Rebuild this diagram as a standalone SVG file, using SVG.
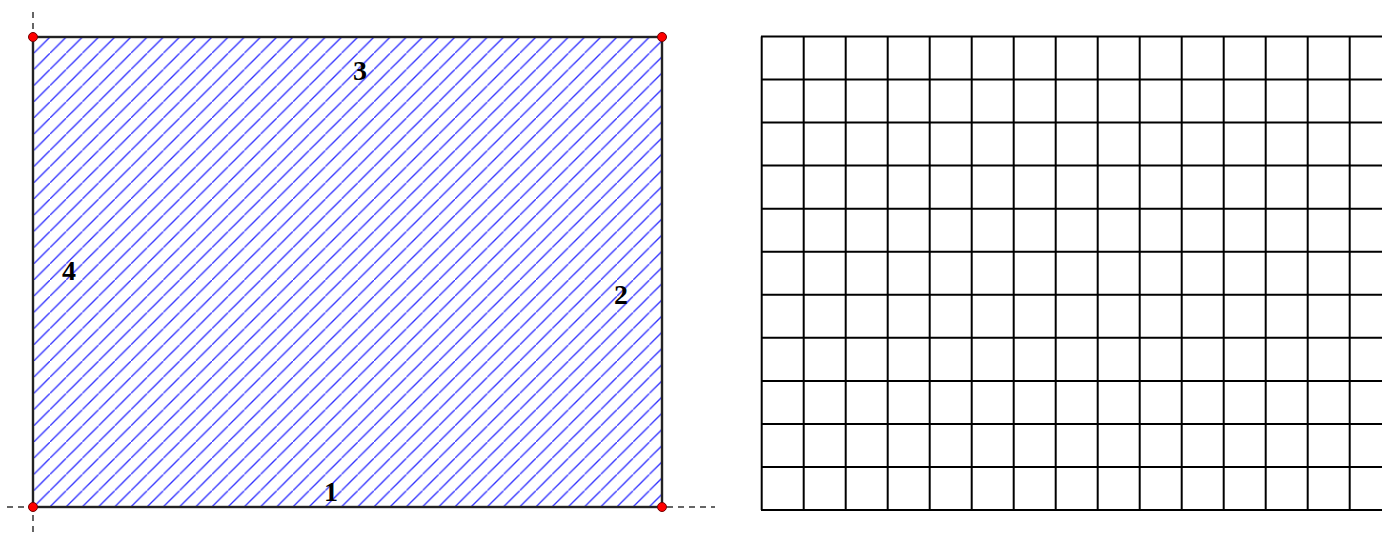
<svg xmlns="http://www.w3.org/2000/svg" width="1382" height="534" viewBox="0 0 1382 534">
<style>
.axis{stroke:#333;stroke-width:1.5;stroke-dasharray:6 5;fill:none}
.border{fill:none;stroke:#222;stroke-width:2.4}
.pt{fill:#ff0000;stroke:#700000;stroke-width:1}
.lbl{font-family:"Liberation Serif","Times New Roman",serif;font-weight:bold;font-size:28px;fill:#000;text-anchor:middle}
.grid{stroke:#000;stroke-width:2;fill:none}
</style>
<defs>
<pattern id="hatch" patternUnits="userSpaceOnUse" x="33.8" y="37" width="16.2" height="16.2">
<line x1="-1" y1="17.2" x2="17.2" y2="-1" stroke="#3030ff" stroke-width="1.3"/>
</pattern>
</defs>
<g id="axes">
<line class="axis" x1="33" y1="12" x2="33" y2="37"/>
<line class="axis" x1="33" y1="515" x2="33" y2="534"/>
<line class="axis" x1="7" y1="507" x2="33" y2="507"/>
<line class="axis" x1="667" y1="507" x2="715" y2="507"/>
</g>
<g id="region">
<rect x="33" y="37" width="629" height="470" fill="url(#hatch)"/>
<rect class="border" x="33" y="37" width="629" height="470"/>
</g>
<g id="points">
<circle class="pt" cx="33" cy="37" r="4.5"/>
<circle class="pt" cx="662" cy="37" r="4.5"/>
<circle class="pt" cx="33" cy="507" r="4.5"/>
<circle class="pt" cx="662" cy="507" r="4.5"/>
</g>
<g id="labels">
<text class="lbl" x="360" y="80">3</text>
<text class="lbl" x="69" y="280">4</text>
<text class="lbl" x="621" y="304">2</text>
<text class="lbl" x="331" y="501">1</text>
</g>
<g id="grid">
<path class="grid" d="M761.7 36.5V510 M803.7 36.5V510 M845.7 36.5V510 M887.7 36.5V510 M929.7 36.5V510 M971.7 36.5V510 M1013.7 36.5V510 M1055.7 36.5V510 M1097.7 36.5V510 M1139.7 36.5V510 M1181.7 36.5V510 M1223.7 36.5V510 M1265.7 36.5V510 M1307.7 36.5V510 M1349.7 36.5V510"/>
<path class="grid" d="M761 36.5H1382 M761 79.5H1382 M761 122.6H1382 M761 165.6H1382 M761 208.7H1382 M761 251.7H1382 M761 294.8H1382 M761 337.8H1382 M761 380.9H1382 M761 423.9H1382 M761 467H1382 M761 510H1382"/>
</g>
</svg>
